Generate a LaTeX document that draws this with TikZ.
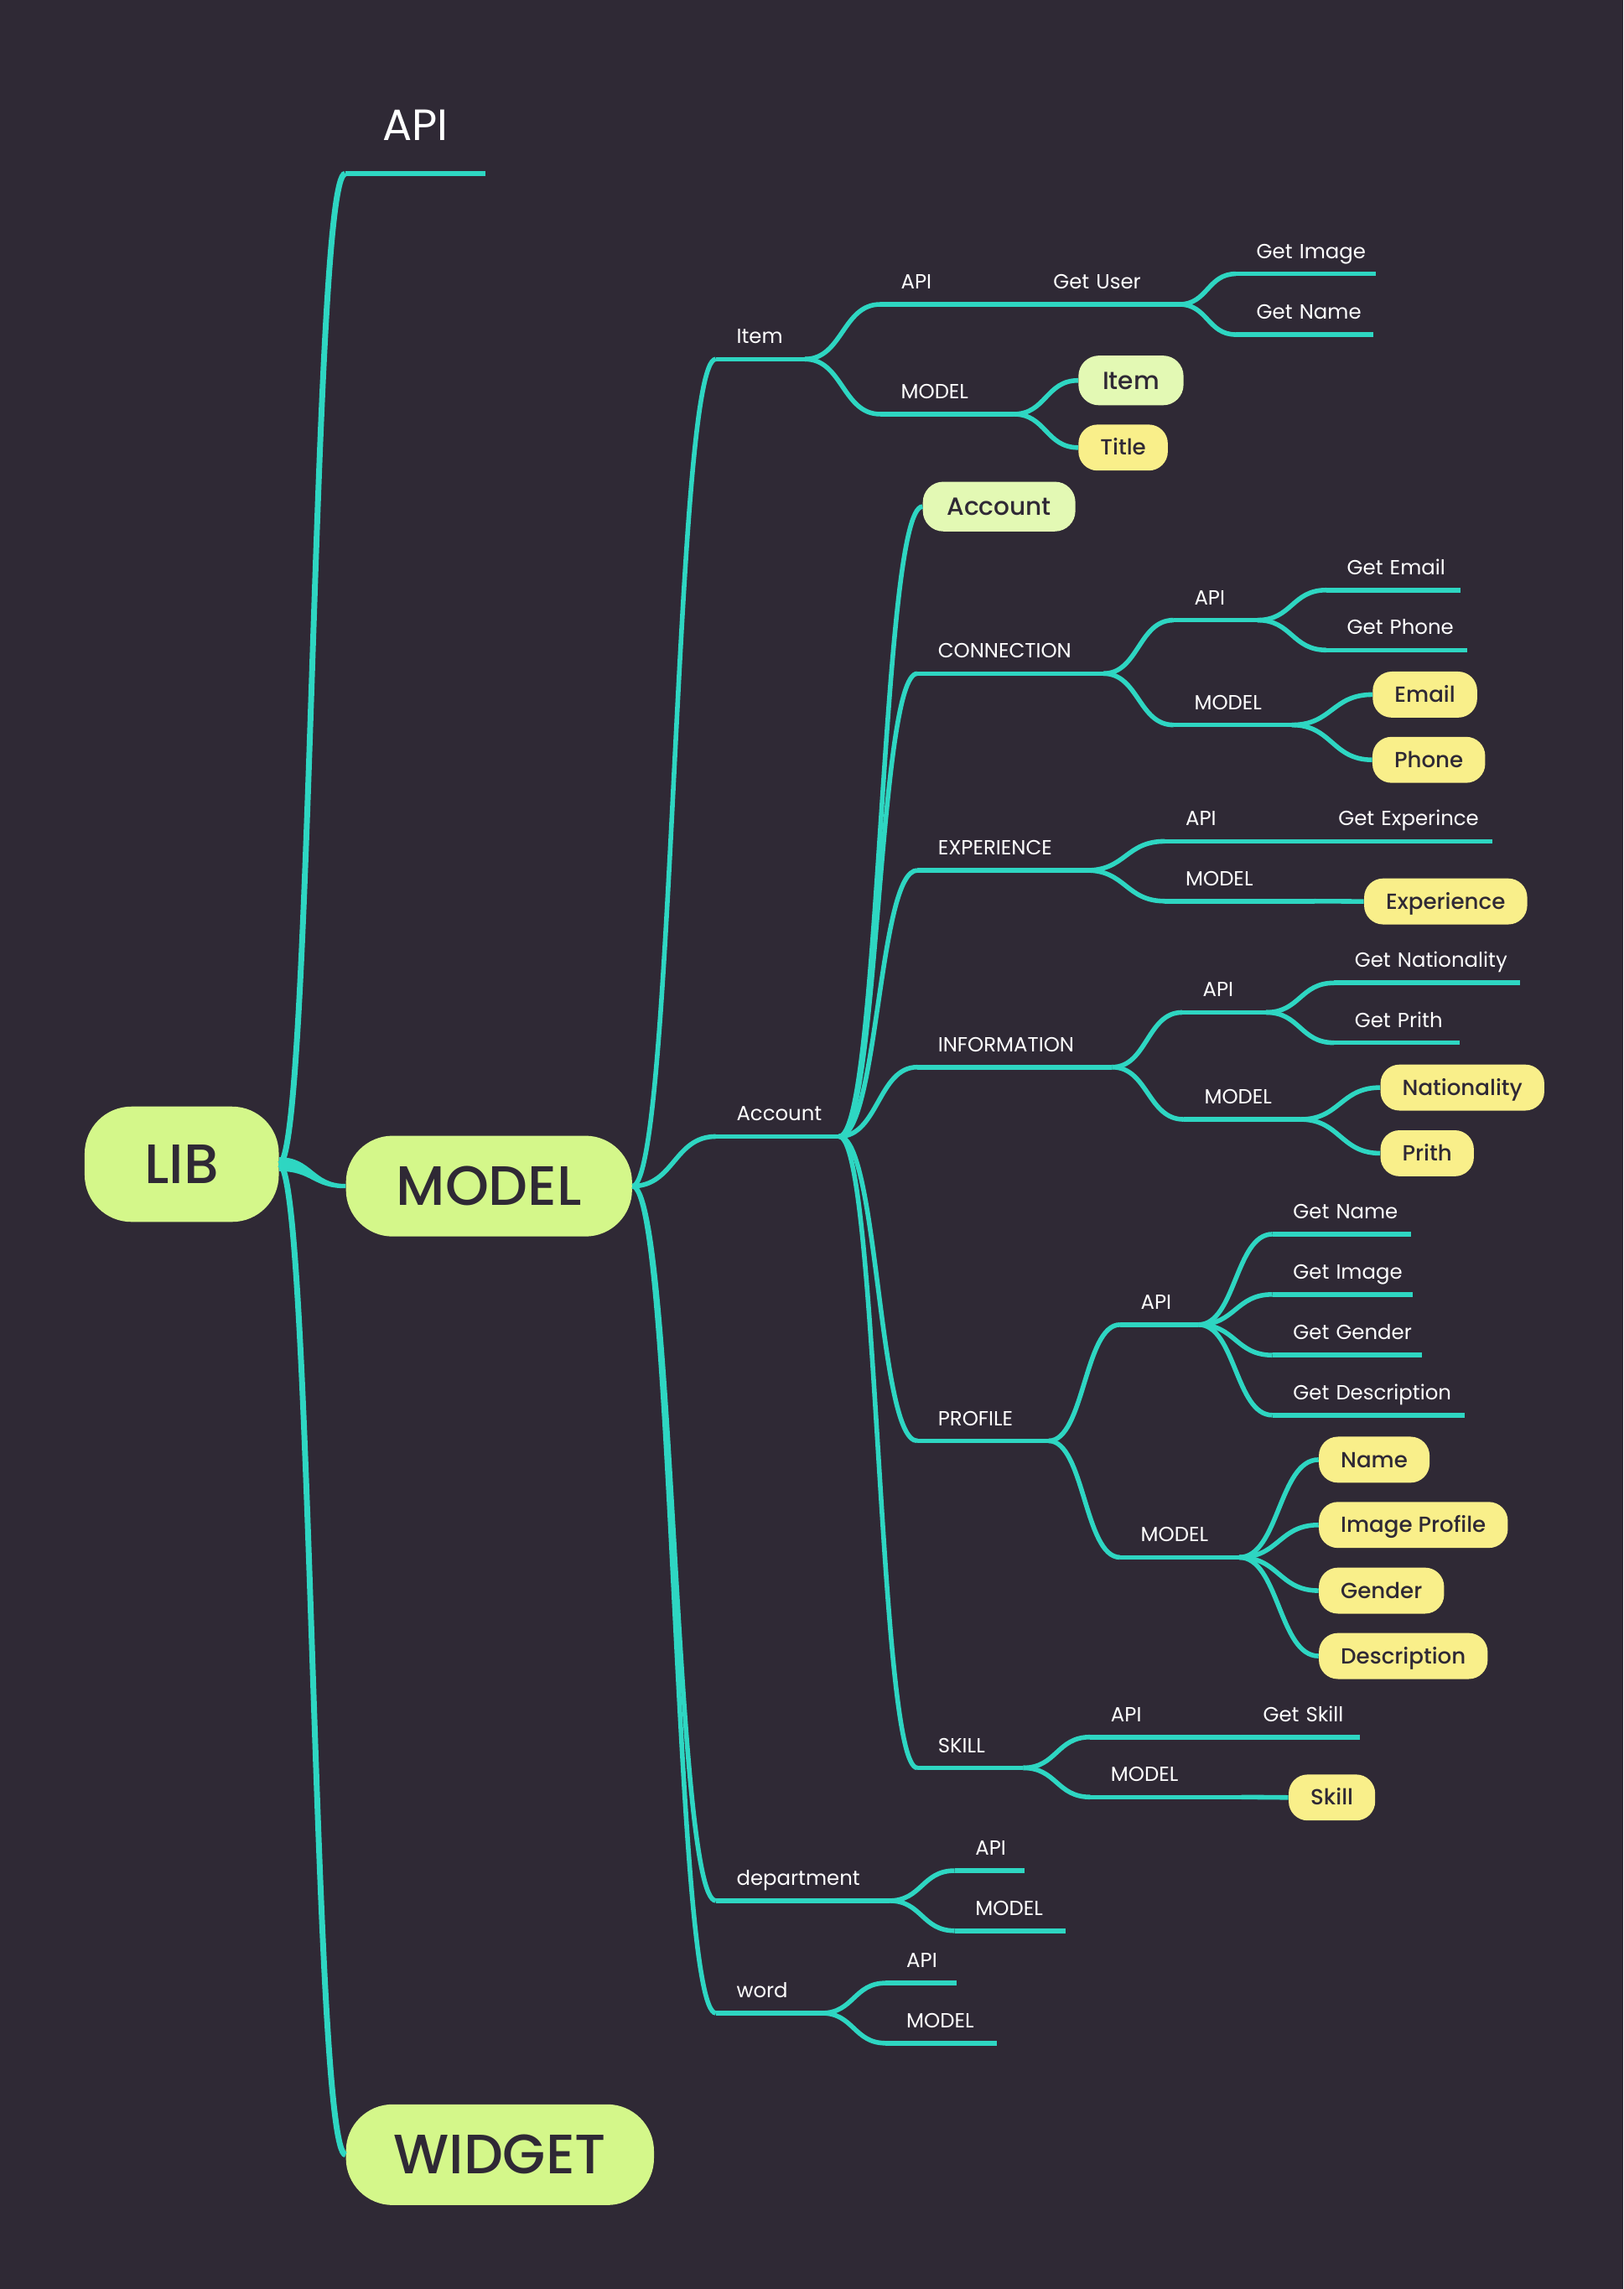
\documentclass[tikz,border=0pt]{standalone}
\usepackage{fontspec}
\setmainfont{Poppins}
\newfontfamily\medfont{Poppins Medium}
\usetikzlibrary{calc}
\definecolor{colorBg}{HTML}{2F2935}
\definecolor{colorBranch}{HTML}{2ED6C2}
\definecolor{colorRoot}{HTML}{D4F78A}
\definecolor{colorKey}{HTML}{E3F9B4}
\definecolor{colorLeaf}{HTML}{F9EF8A}
\colorlet{colorInk}{colorBg}
\tikzset{
  branch/.style={draw=colorBranch, line width=3.2pt, to path={let \p1=(\tikztostart), \p2=(\tikztotarget) in .. controls ({0.5*\x1+0.5*\x2},\y1) and ({0.5*\x1+0.5*\x2},\y2) .. (\tikztotarget)}},
  topic/.style={anchor=south west, inner xsep=14pt, inner ysep=0pt, text height=10pt, text depth=10.4pt, align=left, text=white, font=\fontsize{14}{17}\selectfont, execute at begin node={\hbox\bgroup}, execute at end node={\egroup}, append after command={(\tikzlastnode.south west) edge[draw=colorBranch, line width=3.2pt] (\tikzlastnode.south east)}},
  root/.style={fill=colorRoot, text=colorInk, rounded corners=32pt, minimum height=69pt, inner sep=0pt, text height=26pt, text depth=0pt, font=\medfont\fontsize{38}{45}\selectfont},
  leafnode/.style={anchor=west, fill=colorLeaf, text=colorInk, rounded corners=13pt, minimum height=31.5pt, inner xsep=15pt, inner ysep=0pt, text height=10.5pt, text depth=0pt, font=\medfont\fontsize{15}{18}\selectfont},
  keynode/.style={leafnode, fill=colorKey, rounded corners=14pt, minimum height=34pt, inner xsep=16.5pt, text height=11.9pt, font=\medfont\fontsize{17}{20}\selectfont}
}
\begin{document}
\begin{tikzpicture}[x=1pt, y=-1pt]
\fill[colorBg] (0,0) rectangle (1112,1568);
\useasboundingbox (0,0) rectangle (1112,1568);
% main topics
\node[root, minimum width=133pt, minimum height=79pt] (lib) at (124.5,797.5) {LIB};
\node[root, minimum width=196pt] (model) at (335,812.5) {MODEL};
\node[root, minimum width=211pt] (widget) at (342.5,1476) {WIDGET};
\node[topic, text width=67.5pt, align=center, text height=21pt, text depth=22.5pt, font=\fontsize{30}{36}\selectfont, execute at begin node={}, execute at end node={}] (api) at (236.5,119) {API};
% model
\node[topic, text width=32.6pt] (item) at (490.4,246) {Item};
\node[topic, text width=56pt] (account) at (490.4,778.5) {Account};
\node[topic, text width=90.3pt] (department) at (490.4,1302) {department};
\node[topic, text width=44.1pt] (word) at (490.4,1379) {word};
% item
\node[topic, text width=76.4pt] (itemApi) at (603,208.5) {API};
\node[topic, text width=72.1pt] (getUser) at (707.4,208.5) {Get User};
\node[topic, text width=67.4pt] (userImage) at (846.6,187.6) {Get Image};
\node[topic, text width=65.9pt] (userName) at (846.6,229.2) {Get Name};
\node[topic, text width=63pt] (itemModel) at (603,283.7) {MODEL};
\node[keynode] (itemItem) at (738.6,260.6) {Item};
\node[leafnode] (itemTitle) at (738.6,306.6) {Title};
% account
\node[keynode] (accountNode) at (632,347) {Account};
\node[topic, text width=99.1pt] (connection) at (628.4,461.4) {CONNECTION};
\node[topic, text width=29pt] (connApi) at (804,424.8) {API};
\node[topic, text width=63.7pt] (getEmail) at (908.6,404.2) {Get Email};
\node[topic, text width=68.1pt] (getPhone) at (908.6,445.3) {Get Phone};
\node[topic, text width=52.5pt] (connModel) at (804,496.6) {MODEL};
\node[leafnode] (email) at (940.2,475.8) {Email};
\node[leafnode] (phone) at (940,520.5) {Phone};
\node[topic, text width=87.6pt] (experience) at (628.4,596.2) {EXPERIENCE};
\node[topic, text width=76.7pt] (expApi) at (798,576.3) {API};
\node[topic, text width=91.5pt] (getExp) at (902.7,576.3) {Get Experince};
\node[topic, text width=74pt] (expModel) at (798,617.3) {MODEL};
\node[leafnode] (expNode) at (934.3,617.5) {Experience};
\node[topic, text width=105pt] (information) at (628.4,731) {INFORMATION};
\node[topic, text width=29.1pt] (infoApi) at (809.8,693.5) {API};
\node[topic, text width=98.8pt] (getNation) at (913.9,673.3) {Get Nationality};
\node[topic, text width=57.5pt] (getPrith) at (913.9,714.3) {Get Prith};
\node[topic, text width=51.4pt] (infoModel) at (810.9,766.8) {MODEL};
\node[leafnode] (nation) at (945.5,745) {Nationality};
\node[leafnode] (prith) at (945.5,790) {Prith};
\node[topic, text width=61.6pt] (profile) at (628.4,987) {PROFILE};
\node[topic, text width=25.3pt] (profApi) at (767.3,907.4) {API};
\node[topic, text width=66.6pt] (profGetName) at (871.7,845.4) {Get Name};
\node[topic, text width=67.5pt] (profGetImage) at (871.7,886.7) {Get Image};
\node[topic, text width=74.2pt] (profGetGender) at (871.7,928.3) {Get Gender};
\node[topic, text width=103.2pt] (profGetDesc) at (871.7,969.4) {Get Description};
\node[topic, text width=53.2pt] (profModel) at (767.3,1066.8) {MODEL};
\node[leafnode] (name) at (903.3,999.9) {Name};
\node[leafnode] (imageProfile) at (903.3,1044.6) {Image Profile};
\node[leafnode] (gender) at (903.3,1089.6) {Gender};
\node[leafnode] (description) at (903.3,1134.4) {Description};
\node[topic, text width=44.1pt] (skill) at (628.4,1211) {SKILL};
\node[topic, text width=76.3pt] (skillApi) at (746.8,1189.9) {API};
\node[topic, text width=52.2pt] (getSkill) at (851.1,1189.9) {Get Skill};
\node[topic, text width=75.2pt] (skillModel) at (746.8,1231) {MODEL};
\node[leafnode] (skillNode) at (882.6,1231.3) {Skill};
% department and word
\node[topic, text width=19.7pt] (deptApi) at (654,1281.4) {API};
\node[topic, text width=47.6pt] (deptModel) at (654,1322.6) {MODEL};
\node[topic, text width=20.1pt] (wordApi) at (606.8,1358.4) {API};
\node[topic, text width=47.5pt] (wordModel) at (606.8,1399.6) {MODEL};
% branches
\draw[branch, line width=4pt] (lib.east) edge (api.south west) edge (widget.west);
\fill[colorBranch] let \p1=(lib.east), \p2=(model.west), \n1={0.5*\x1+0.5*\x2} in (\x1,\y1+4.8pt) .. controls (\n1,\y1+4.8pt) and (\n1,\y2+1.5pt) .. (\x2,\y2+1.5pt) -- (\x2,\y2-1.5pt) .. controls (\n1,\y2-1.5pt) and (\n1,\y1-4.8pt) .. (\x1,\y1-4.8pt) -- cycle;
\draw[branch] (model.east) edge (item.south west) edge (account.south west) edge (department.south west) edge (word.south west);
\draw[branch] (item.south east) edge (itemApi.south west) edge (itemModel.south west);
\draw[branch] (itemApi.south east) edge (getUser.south west);
\draw[branch] (getUser.south east) edge (userImage.south west) edge (userName.south west);
\draw[branch] (itemModel.south east) edge (itemItem.west) edge (itemTitle.west);
\draw[branch] (account.south east) edge (accountNode.west) edge (connection.south west) edge (experience.south west) edge (information.south west) edge (profile.south west) edge (skill.south west);
\draw[branch] (connection.south east) edge (connApi.south west) edge (connModel.south west);
\draw[branch] (connApi.south east) edge (getEmail.south west) edge (getPhone.south west);
\draw[branch] (connModel.south east) edge (email.west) edge (phone.west);
\draw[branch] (experience.south east) edge (expApi.south west) edge (expModel.south west);
\draw[branch] (expApi.south east) edge (getExp.south west);
\draw[branch] (expModel.south east) edge (expNode.west);
\draw[branch] (information.south east) edge (infoApi.south west) edge (infoModel.south west);
\draw[branch] (infoApi.south east) edge (getNation.south west) edge (getPrith.south west);
\draw[branch] (infoModel.south east) edge (nation.west) edge (prith.west);
\draw[branch] (profile.south east) edge (profApi.south west) edge (profModel.south west);
\draw[branch] (profApi.south east) edge (profGetName.south west) edge (profGetImage.south west) edge (profGetGender.south west) edge (profGetDesc.south west);
\draw[branch] (profModel.south east) edge (name.west) edge (imageProfile.west) edge (gender.west) edge (description.west);
\draw[branch] (skill.south east) edge (skillApi.south west) edge (skillModel.south west);
\draw[branch] (skillApi.south east) edge (getSkill.south west);
\draw[branch] (skillModel.south east) edge (skillNode.west);
\draw[branch] (department.south east) edge (deptApi.south west) edge (deptModel.south west);
\draw[branch] (word.south east) edge (wordApi.south west) edge (wordModel.south west);
\end{tikzpicture}
\end{document}
